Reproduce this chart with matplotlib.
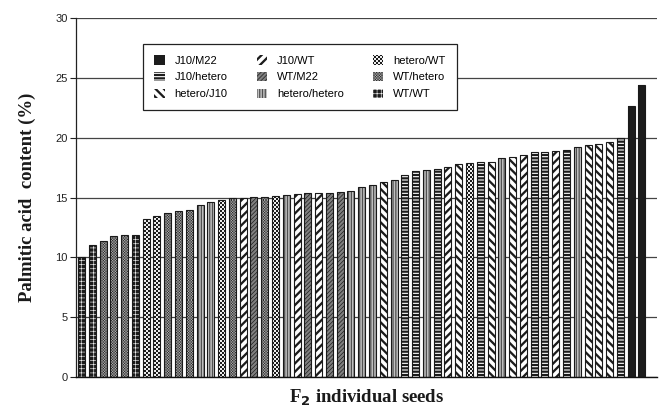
import numpy as np
import matplotlib
matplotlib.use('Agg')
import matplotlib.pyplot as plt
import matplotlib.hatch as mhatch
import matplotlib.patches as mpatches
from matplotlib.path import Path

# ---------------- data ----------------
genotypes = [
    'WT/WT', 'WT/WT', 'WT/hetero', 'WT/hetero', 'WT/hetero', 'WT/WT',
    'hetero/WT', 'hetero/WT', 'WT/hetero', 'WT/hetero', 'WT/hetero',
    'hetero/hetero', 'hetero/hetero', 'hetero/WT', 'WT/hetero', 'J10/WT',
    'WT/M22', 'WT/hetero', 'hetero/WT', 'hetero/hetero', 'J10/WT', 'WT/M22',
    'J10/WT', 'WT/M22', 'WT/M22', 'hetero/hetero', 'hetero/hetero',
    'hetero/hetero', 'hetero/J10', 'hetero/hetero', 'J10/hetero',
    'J10/hetero', 'hetero/hetero', 'J10/hetero', 'J10/WT', 'hetero/J10',
    'hetero/WT', 'J10/hetero', 'hetero/J10', 'hetero/hetero', 'hetero/J10',
    'J10/WT', 'J10/hetero', 'J10/hetero', 'J10/WT', 'J10/hetero',
    'hetero/hetero', 'hetero/J10', 'hetero/J10', 'hetero/J10', 'J10/hetero',
    'J10/M22', 'J10/M22',
]
values = [
    10.0, 11.0, 11.4, 11.8, 11.85, 11.85,
    13.25, 13.5, 13.75, 13.85, 14.0,
    14.4, 14.6, 14.8, 14.95, 14.97,
    15.05, 15.05, 15.12, 15.2, 15.3, 15.35,
    15.35, 15.4, 15.5, 15.6, 15.9,
    16.05, 16.3, 16.5, 16.9,
    17.2, 17.33, 17.4, 17.6, 17.8,
    17.88, 17.95, 18.0, 18.35, 18.4,
    18.6, 18.83, 18.86, 18.88, 18.97,
    19.25, 19.4, 19.47, 19.67, 20.0,
    22.7, 24.4,
]
legend_order = ['J10/M22', 'J10/hetero', 'hetero/J10', 'J10/WT', 'WT/M22',
                'hetero/hetero', 'hetero/WT', 'WT/hetero', 'WT/WT']
y_ticks = [0, 5, 10, 15, 20, 25, 30]
x_label = r'F$_{\mathbf{2}}$ individual seeds'
y_label = 'Palmitic acid  content (%)'

# ---------------- custom checker hatch (uses '*') ----------------


class CheckerHatch(mhatch.HatchPatternBase):
    def __init__(self, hatch, density):
        k = hatch.count('*')
        self.n = 25 * k
        if k:
            ii, jj = np.meshgrid(np.arange(self.n), np.arange(self.n), indexing='ij')
            mask = (ii + jj) % 2 == 0
            self.cells = np.column_stack([ii[mask], jj[mask]]).astype(float)
        else:
            self.cells = np.empty((0, 2))
        self.num_vertices = len(self.cells) * 5

    def set_vertices_and_codes(self, vertices, codes):
        s = 1.0 / self.n
        x0 = self.cells[:, 0] * s
        y0 = self.cells[:, 1] * s
        x1 = x0 + s
        y1 = y0 + s
        v = np.stack([np.column_stack([x0, y0]), np.column_stack([x1, y0]),
                      np.column_stack([x1, y1]), np.column_stack([x0, y1]),
                      np.column_stack([x0, y0])], axis=1).reshape(-1, 2)
        vertices[:] = v
        c = np.array([Path.MOVETO, Path.LINETO, Path.LINETO, Path.LINETO,
                      Path.CLOSEPOLY])
        codes[:] = np.tile(c, len(self.cells))


mhatch._hatch_types = [t for t in mhatch._hatch_types
                       if t is not mhatch.Stars] + [CheckerHatch]

styles = {
    'J10/M22':       dict(face='#1c1c1c', hc='#1c1c1c', hatch=None, lw=1.0),
    'J10/hetero':    dict(face='#ffffff', hc='#1c1c1c', hatch='-----', lw=1.6),
    'hetero/J10':    dict(face='#ffffff', hc='#1c1c1c', hatch='\\\\\\\\', lw=1.65),
    'J10/WT':        dict(face='#ffffff', hc='#1c1c1c', hatch='////', lw=1.65),
    'WT/M22':        dict(face='#808080', hc='#1c1c1c', hatch='////////', lw=0.5),
    'hetero/hetero': dict(face='#c0c0c0', hc='#505050', hatch='||||||', lw=0.9),
    'hetero/WT':     dict(face='#ffffff', hc='#1c1c1c', hatch='**', lw=0.05),
    'WT/hetero':     dict(face='#262626', hc='#a8a8a8', hatch='***', lw=0.05),
    'WT/WT':         dict(face='#1c1c1c', hc='#f0f0f0', hatch='++++', lw=0.45),
}


def set_hlw(p, lw):
    if hasattr(p, 'set_hatch_linewidth'):
        try:
            p.set_hatch_linewidth(lw)
            return
        except Exception:
            pass
    p._hatch_linewidth = lw


# ---------------- figure ----------------
fig = plt.figure(figsize=(6.62, 4.16), dpi=100)
ax = fig.add_axes([76 / 662, 39 / 416, (657 - 76) / 662, (376 - 17) / 416])

x = np.arange(len(values))
vals = np.array(values)
geno = np.array(genotypes)
bw = 0.65

for g in legend_order:
    m = geno == g
    if not m.any():
        continue
    st = styles[g]
    with plt.rc_context({'hatch.linewidth': st['lw']}):
        bars = ax.bar(x[m], vals[m], width=bw, color=st['face'],
                      edgecolor=st['hc'], hatch=st['hatch'], linewidth=0,
                      zorder=2)
        for b in bars:
            set_hlw(b, st['lw'])
ax.bar(x, vals, width=bw, fill=False, edgecolor='#1a1a1a', linewidth=0.8,
       zorder=3)

ax.set_xlim(-0.51, 53.4)
ax.set_ylim(0, 30.03)
ax.set_yticks(y_ticks)
ax.set_xticks([])
ax.yaxis.grid(True, color='#444444', linewidth=0.9, zorder=0)
ax.set_axisbelow(True)
for s in ['top', 'right']:
    ax.spines[s].set_visible(False)
ax.spines['left'].set_color('#222222')
ax.spines['bottom'].set_color('#111111')
ax.spines['left'].set_linewidth(0.9)
ax.spines['bottom'].set_linewidth(1.0)
ax.tick_params(axis='y', direction='out', length=4, width=0.8, pad=2,
               colors='#222222', labelsize=8)
for lab in ax.get_yticklabels():
    lab.set_fontfamily('Liberation Sans')

plt.rcParams['mathtext.fontset'] = 'stix'
ax.set_ylabel(y_label, fontfamily='Liberation Serif', fontweight='bold',
              fontsize=13.5, labelpad=14, color='#1a1a1a')
ax.set_xlabel(x_label, fontfamily='Liberation Serif', fontweight='bold',
              fontsize=13.5, labelpad=8, color='#1a1a1a')

handles = []
for g in legend_order:
    st = styles[g]
    with plt.rc_context({'hatch.linewidth': st['lw']}):
        p = mpatches.Patch(facecolor=st['face'], edgecolor=st['hc'],
                           hatch=st['hatch'], linewidth=0, label=g)
        set_hlw(p, st['lw'])
    handles.append(p)

leg = ax.legend(handles=handles, ncol=3, loc='upper left',
                bbox_to_anchor=((143 - 76) / 581, (376 - 43) / 359),
                borderaxespad=0, fancybox=False, frameon=True,
                edgecolor='#222222', framealpha=1, facecolor='white',
                prop={'family': 'Liberation Sans', 'size': 8},
                handlelength=0.95, handleheight=0.95, handletextpad=0.9,
                columnspacing=2.6, labelspacing=0.55, borderpad=1.0)
leg.get_frame().set_linewidth(0.9)
leg.set_zorder(5)
for g, lp in zip(legend_order, leg.get_patches()):
    set_hlw(lp, styles[g]['lw'])

fig.savefig('out.png', dpi=100)
